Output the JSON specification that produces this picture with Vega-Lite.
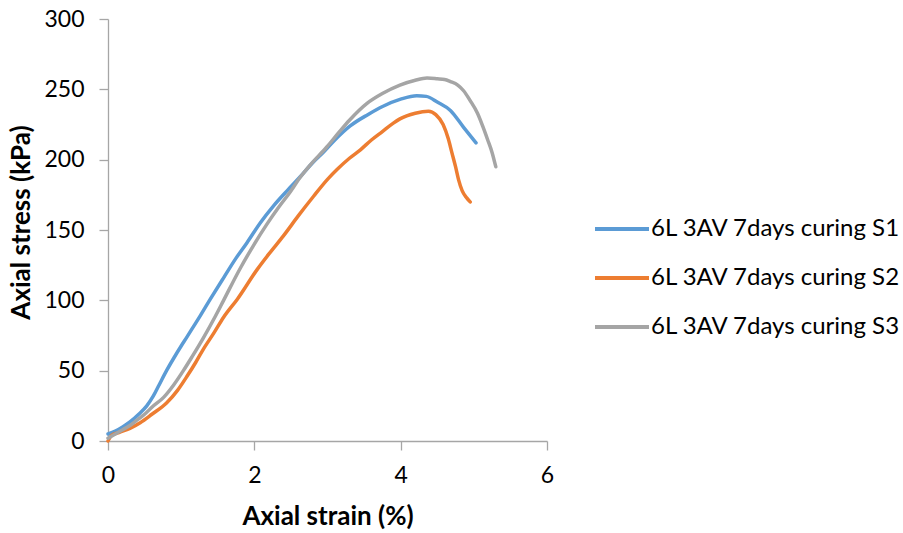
{
  "$schema": "https://vega.github.io/schema/vega-lite/v6.json",
  "width": 439,
  "height": 422,
  "autosize": {"type": "none"},
  "padding": {"left": 108, "top": 19, "right": 356, "bottom": 92},
  "background": "white",
  "config": {
    "view": {"stroke": null},
    "font": "Lato",
    "axis": {
      "grid": false,
      "domainColor": "#a6a6a6",
      "domainWidth": 1.3,
      "tickColor": "#a6a6a6",
      "tickWidth": 1.3,
      "tickSize": 9,
      "labelFont": "Lato",
      "labelFontSize": 23,
      "labelColor": "#000000",
      "titleFont": "Lato",
      "titleFontSize": 26,
      "titleFontWeight": "bold",
      "titleColor": "#000000"
    }
  },
  "data": {
    "values": [
      {"s": "6L 3AV 7days curing S1", "x": 0, "y": 5},
      {"s": "6L 3AV 7days curing S1", "x": 0.1, "y": 7},
      {"s": "6L 3AV 7days curing S1", "x": 0.2, "y": 10},
      {"s": "6L 3AV 7days curing S1", "x": 0.3, "y": 13.5},
      {"s": "6L 3AV 7days curing S1", "x": 0.42, "y": 19},
      {"s": "6L 3AV 7days curing S1", "x": 0.53, "y": 25},
      {"s": "6L 3AV 7days curing S1", "x": 0.62, "y": 32},
      {"s": "6L 3AV 7days curing S1", "x": 0.7, "y": 40},
      {"s": "6L 3AV 7days curing S1", "x": 0.8, "y": 50},
      {"s": "6L 3AV 7days curing S1", "x": 0.9, "y": 59},
      {"s": "6L 3AV 7days curing S1", "x": 1.0, "y": 67.5},
      {"s": "6L 3AV 7days curing S1", "x": 1.08, "y": 74},
      {"s": "6L 3AV 7days curing S1", "x": 1.17, "y": 81.5},
      {"s": "6L 3AV 7days curing S1", "x": 1.26, "y": 89},
      {"s": "6L 3AV 7days curing S1", "x": 1.4, "y": 101},
      {"s": "6L 3AV 7days curing S1", "x": 1.58, "y": 116},
      {"s": "6L 3AV 7days curing S1", "x": 1.75, "y": 130},
      {"s": "6L 3AV 7days curing S1", "x": 1.9, "y": 141},
      {"s": "6L 3AV 7days curing S1", "x": 2.08, "y": 155},
      {"s": "6L 3AV 7days curing S1", "x": 2.26, "y": 167},
      {"s": "6L 3AV 7days curing S1", "x": 2.45, "y": 178},
      {"s": "6L 3AV 7days curing S1", "x": 2.63, "y": 188},
      {"s": "6L 3AV 7days curing S1", "x": 2.8, "y": 198},
      {"s": "6L 3AV 7days curing S1", "x": 2.94, "y": 205},
      {"s": "6L 3AV 7days curing S1", "x": 3.1, "y": 214},
      {"s": "6L 3AV 7days curing S1", "x": 3.31, "y": 224},
      {"s": "6L 3AV 7days curing S1", "x": 3.55, "y": 232},
      {"s": "6L 3AV 7days curing S1", "x": 3.76, "y": 238},
      {"s": "6L 3AV 7days curing S1", "x": 4.0, "y": 243},
      {"s": "6L 3AV 7days curing S1", "x": 4.22, "y": 245.5},
      {"s": "6L 3AV 7days curing S1", "x": 4.35, "y": 245},
      {"s": "6L 3AV 7days curing S1", "x": 4.5, "y": 241},
      {"s": "6L 3AV 7days curing S1", "x": 4.68, "y": 235},
      {"s": "6L 3AV 7days curing S1", "x": 4.86, "y": 223},
      {"s": "6L 3AV 7days curing S1", "x": 5.03, "y": 212},

      {"s": "6L 3AV 7days curing S2", "x": 0, "y": 0},
      {"s": "6L 3AV 7days curing S2", "x": 0.05, "y": 4},
      {"s": "6L 3AV 7days curing S2", "x": 0.15, "y": 6},
      {"s": "6L 3AV 7days curing S2", "x": 0.3, "y": 9},
      {"s": "6L 3AV 7days curing S2", "x": 0.44, "y": 13},
      {"s": "6L 3AV 7days curing S2", "x": 0.6, "y": 19},
      {"s": "6L 3AV 7days curing S2", "x": 0.8, "y": 27},
      {"s": "6L 3AV 7days curing S2", "x": 0.95, "y": 36},
      {"s": "6L 3AV 7days curing S2", "x": 1.08, "y": 46},
      {"s": "6L 3AV 7days curing S2", "x": 1.2, "y": 56},
      {"s": "6L 3AV 7days curing S2", "x": 1.3, "y": 65},
      {"s": "6L 3AV 7days curing S2", "x": 1.45, "y": 77},
      {"s": "6L 3AV 7days curing S2", "x": 1.58, "y": 88},
      {"s": "6L 3AV 7days curing S2", "x": 1.77, "y": 101},
      {"s": "6L 3AV 7days curing S2", "x": 2.04, "y": 122},
      {"s": "6L 3AV 7days curing S2", "x": 2.2, "y": 133},
      {"s": "6L 3AV 7days curing S2", "x": 2.4, "y": 146},
      {"s": "6L 3AV 7days curing S2", "x": 2.6, "y": 160},
      {"s": "6L 3AV 7days curing S2", "x": 2.81, "y": 174},
      {"s": "6L 3AV 7days curing S2", "x": 3.0, "y": 186},
      {"s": "6L 3AV 7days curing S2", "x": 3.13, "y": 193},
      {"s": "6L 3AV 7days curing S2", "x": 3.3, "y": 201},
      {"s": "6L 3AV 7days curing S2", "x": 3.45, "y": 207},
      {"s": "6L 3AV 7days curing S2", "x": 3.6, "y": 214},
      {"s": "6L 3AV 7days curing S2", "x": 3.75, "y": 220},
      {"s": "6L 3AV 7days curing S2", "x": 3.9, "y": 226},
      {"s": "6L 3AV 7days curing S2", "x": 3.99, "y": 229},
      {"s": "6L 3AV 7days curing S2", "x": 4.2, "y": 233},
      {"s": "6L 3AV 7days curing S2", "x": 4.38, "y": 234.4},
      {"s": "6L 3AV 7days curing S2", "x": 4.48, "y": 232},
      {"s": "6L 3AV 7days curing S2", "x": 4.58, "y": 225},
      {"s": "6L 3AV 7days curing S2", "x": 4.65, "y": 215},
      {"s": "6L 3AV 7days curing S2", "x": 4.7, "y": 205},
      {"s": "6L 3AV 7days curing S2", "x": 4.75, "y": 195},
      {"s": "6L 3AV 7days curing S2", "x": 4.79, "y": 186},
      {"s": "6L 3AV 7days curing S2", "x": 4.84, "y": 178},
      {"s": "6L 3AV 7days curing S2", "x": 4.9, "y": 173},
      {"s": "6L 3AV 7days curing S2", "x": 4.95, "y": 170},

      {"s": "6L 3AV 7days curing S3", "x": 0, "y": 2},
      {"s": "6L 3AV 7days curing S3", "x": 0.1, "y": 5},
      {"s": "6L 3AV 7days curing S3", "x": 0.2, "y": 8},
      {"s": "6L 3AV 7days curing S3", "x": 0.3, "y": 11},
      {"s": "6L 3AV 7days curing S3", "x": 0.4, "y": 15},
      {"s": "6L 3AV 7days curing S3", "x": 0.5, "y": 19},
      {"s": "6L 3AV 7days curing S3", "x": 0.6, "y": 24},
      {"s": "6L 3AV 7days curing S3", "x": 0.76, "y": 31},
      {"s": "6L 3AV 7days curing S3", "x": 0.9, "y": 40},
      {"s": "6L 3AV 7days curing S3", "x": 1.03, "y": 50},
      {"s": "6L 3AV 7days curing S3", "x": 1.15, "y": 60},
      {"s": "6L 3AV 7days curing S3", "x": 1.3, "y": 73},
      {"s": "6L 3AV 7days curing S3", "x": 1.46, "y": 88},
      {"s": "6L 3AV 7days curing S3", "x": 1.58, "y": 100},
      {"s": "6L 3AV 7days curing S3", "x": 1.81, "y": 123},
      {"s": "6L 3AV 7days curing S3", "x": 2.0, "y": 140},
      {"s": "6L 3AV 7days curing S3", "x": 2.17, "y": 154},
      {"s": "6L 3AV 7days curing S3", "x": 2.33, "y": 166},
      {"s": "6L 3AV 7days curing S3", "x": 2.49, "y": 177},
      {"s": "6L 3AV 7days curing S3", "x": 2.62, "y": 187},
      {"s": "6L 3AV 7days curing S3", "x": 2.76, "y": 196},
      {"s": "6L 3AV 7days curing S3", "x": 2.99, "y": 209},
      {"s": "6L 3AV 7days curing S3", "x": 3.15, "y": 219},
      {"s": "6L 3AV 7days curing S3", "x": 3.3, "y": 228},
      {"s": "6L 3AV 7days curing S3", "x": 3.54, "y": 240},
      {"s": "6L 3AV 7days curing S3", "x": 3.75, "y": 247},
      {"s": "6L 3AV 7days curing S3", "x": 3.99, "y": 253},
      {"s": "6L 3AV 7days curing S3", "x": 4.2, "y": 256.5},
      {"s": "6L 3AV 7days curing S3", "x": 4.36, "y": 258},
      {"s": "6L 3AV 7days curing S3", "x": 4.5, "y": 257.5},
      {"s": "6L 3AV 7days curing S3", "x": 4.6, "y": 257},
      {"s": "6L 3AV 7days curing S3", "x": 4.68, "y": 255.5},
      {"s": "6L 3AV 7days curing S3", "x": 4.78, "y": 253},
      {"s": "6L 3AV 7days curing S3", "x": 4.86, "y": 249},
      {"s": "6L 3AV 7days curing S3", "x": 4.95, "y": 242},
      {"s": "6L 3AV 7days curing S3", "x": 5.05, "y": 233},
      {"s": "6L 3AV 7days curing S3", "x": 5.12, "y": 224},
      {"s": "6L 3AV 7days curing S3", "x": 5.19, "y": 214},
      {"s": "6L 3AV 7days curing S3", "x": 5.25, "y": 205},
      {"s": "6L 3AV 7days curing S3", "x": 5.3, "y": 195}
    ]
  },
  "mark": {"type": "line", "interpolate": "monotone", "strokeWidth": 3.5, "strokeCap": "round", "strokeJoin": "round", "clip": false},
  "encoding": {
    "x": {
      "field": "x",
      "type": "quantitative",
      "scale": {"domain": [0, 6], "nice": false, "zero": true},
      "axis": {
        "title": "Axial strain (%)",
        "values": [0, 2, 4, 6],
        "labelFlush": false,
        "labelPadding": 14,
        "titlePadding": 16
      }
    },
    "y": {
      "field": "y",
      "type": "quantitative",
      "scale": {"domain": [0, 300], "nice": false},
      "axis": {
        "title": "Axial stress (kPa)",
        "values": [0, 50, 100, 150, 200, 250, 300],
        "labelFlush": false,
        "labelPadding": 15,
        "titlePadding": 9,
        "titleY": 203
      }
    },
    "color": {
      "field": "s",
      "type": "nominal",
      "scale": {
        "domain": ["6L 3AV 7days curing S1", "6L 3AV 7days curing S2", "6L 3AV 7days curing S3"],
        "range": ["#5b9bd5", "#ed7d31", "#a5a5a5"]
      },
      "legend": {
        "title": null,
        "orient": "none",
        "legendX": 485,
        "legendY": 181,
        "padding": 0,
        "symbolType": "stroke",
        "symbolSize": 2916,
        "symbolStrokeWidth": 4,
        "labelFont": "Lato",
        "labelFontSize": 24,
        "labelColor": "#000000",
        "labelOffset": 0,
        "labelLimit": 400,
        "rowPadding": 8
      }
    }
  }
}
